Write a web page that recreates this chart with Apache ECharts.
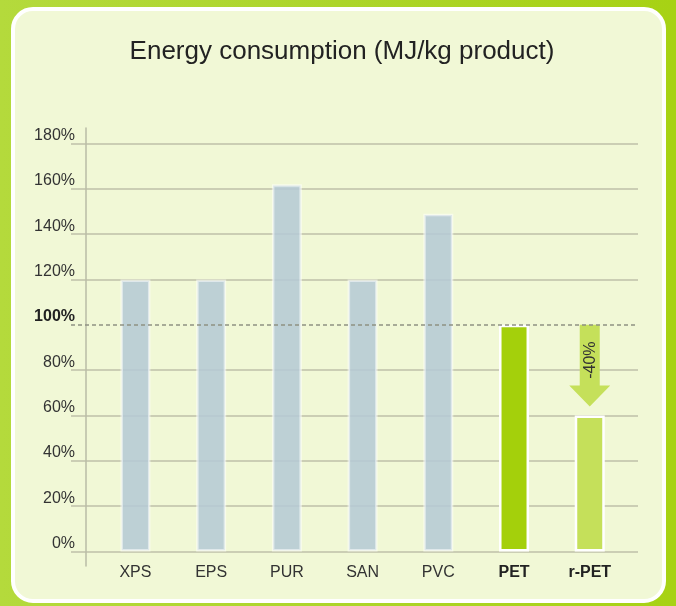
<!DOCTYPE html>
<html>
<head>
<meta charset="utf-8">
<script src="https://cdn.jsdelivr.net/npm/echarts@6/dist/echarts.min.js"></script>
<style>
  html, body { margin: 0; padding: 0; }
  body { width: 676px; height: 606px; background: linear-gradient(90deg, #b4da3c 0%, #acd52a 50%, #a7d214 100%); position: relative; overflow: hidden; }
  #card { position: absolute; left: 11px; top: 7px; width: 647px; height: 588px; background: #f1f8d6; border: 4px solid #ffffff; border-radius: 22px; }
  #chart { position: absolute; left: 0; top: 0; width: 676px; height: 606px; }
</style>
</head>
<body>
<div id="card"></div>
<div id="chart"></div>
<script>
// ---- data ----
const chartTitle = 'Energy consumption (MJ/kg product)';
const categories = ['XPS', 'EPS', 'PUR', 'SAN', 'PVC', 'PET', 'r-PET'];
const energyValues = [120, 120, 162, 120, 149, 100, 60];
const yMin = 0;
const yMax = 180;
const yStep = 20;
const referenceLevel = 100;
const boldCategories = ['PET', 'r-PET'];
const reductionFrom = 'PET';
const reductionTo = 'r-PET';

// ---- styles ----
const FONT = '"Liberation Sans", Arial, Helvetica, sans-serif';
const styleFor = (name) => {
  if (name === 'PET') return { color: '#a4d00b', borderColor: '#ffffff', opacity: 1 };
  if (name === 'r-PET') return { color: '#c5e05a', borderColor: '#ffffff', opacity: 1 };
  return { color: '#b4c9d5', borderColor: 'rgba(255,255,255,0.6)', opacity: 0.86 };
};

const fromIdx = categories.indexOf(reductionFrom);
const toIdx = categories.indexOf(reductionTo);
const fromVal = energyValues[fromIdx];
const toVal = energyValues[toIdx];
const reductionLabel = Math.round((toVal - fromVal) / fromVal * 100) + '%';

const gridLineColors = [];
for (let v = yMin; v <= yMax; v += yStep) gridLineColors.push(v === referenceLevel ? 'rgba(0,0,0,0)' : '#bec1a9');

const chart = echarts.init(document.getElementById('chart'), null, { renderer: 'canvas' });
chart.setOption({
  backgroundColor: 'transparent',
  animation: false,
  title: {
    text: chartTitle,
    left: 337, top: 34, textAlign: 'center',
    textStyle: { fontFamily: FONT, fontSize: 26, fontWeight: 'normal', color: '#222' }
  },
  grid: [
    { left: 71, width: 567, top: 143.5, height: 408 },
    { left: 97.6, width: 530, top: 128, height: 438 }
  ],
  xAxis: [
    { gridIndex: 0, type: 'value', min: 0, max: 1, show: false },
    {
      gridIndex: 1, type: 'category', data: categories, boundaryGap: true,
      axisLine: { show: false }, axisTick: { show: false },
      axisLabel: {
        interval: 0, margin: -1, fontFamily: FONT, fontSize: 16, color: '#333',
        formatter: (v) => boldCategories.includes(v) ? '{b|' + v + '}' : v,
        rich: { b: { fontFamily: FONT, fontSize: 16, fontWeight: 'bold', color: '#222' } }
      }
    }
  ],
  yAxis: [
    {
      gridIndex: 0, type: 'value', min: yMin, max: yMax, interval: yStep,
      axisLine: { show: false }, axisTick: { show: false },
      splitLine: { show: true, lineStyle: { color: gridLineColors, width: 1.5 } },
      axisLabel: {
        margin: -4, fontFamily: FONT, fontSize: 16, color: '#333',
        verticalAlign: 'bottom', lineHeight: 16, padding: [0, 0, 0, 0],
        formatter: (v) => v === referenceLevel ? '{b|' + v + '%}' : v + '%',
        rich: { b: { fontFamily: FONT, fontSize: 16, fontWeight: 'bold', color: '#222', lineHeight: 16 } }
      }
    },
    {
      gridIndex: 1, type: 'value', min: -6.4, max: 186.8, offset: 11.9,
      axisLine: { show: true, lineStyle: { color: '#b9bca6', width: 1.5 } },
      axisTick: { show: false }, axisLabel: { show: false }, splitLine: { show: false }
    }
  ],
  series: [
    {
      type: 'line', xAxisIndex: 0, yAxisIndex: 0, data: [], silent: true,
      markLine: {
        symbol: 'none', silent: true, label: { show: false },
        lineStyle: { type: [4, 3], color: '#8e9182', width: 1.5 },
        data: [{ yAxis: referenceLevel }]
      }
    },
    {
      type: 'bar', xAxisIndex: 1, yAxisIndex: 1, barWidth: 30,
      data: energyValues.map((v, i) => {
        const s = styleFor(categories[i]);
        return { value: v, itemStyle: { color: s.color, borderColor: s.borderColor, borderWidth: 2.5, opacity: s.opacity } };
      })
    },
    {
      type: 'custom', xAxisIndex: 1, yAxisIndex: 1, silent: true,
      data: [[toIdx, fromVal, toVal]],
      renderItem: (params, api) => {
        const pTop = api.coord([api.value(0), api.value(1)]);
        const pBar = api.coord([api.value(0), api.value(2)]);
        const x = pTop[0];
        const yTop = pTop[1];
        const tip = pBar[1] - 9;
        const headTop = tip - 21;
        const sw = 10, hw = 20.5;
        return {
          type: 'group',
          children: [
            {
              type: 'polygon',
              shape: { points: [[x - sw, yTop], [x + sw, yTop], [x + sw, headTop], [x + hw, headTop], [x, tip], [x - hw, headTop], [x - sw, headTop]] },
              style: { fill: '#c5e05a' }
            },
            {
              type: 'text', x: x + 1, y: (yTop + headTop) / 2 + 5, rotation: Math.PI / 2,
              style: { text: reductionLabel, fill: '#333', font: '16px ' + FONT, align: 'center', verticalAlign: 'middle' }
            }
          ]
        };
      }
    }
  ]
});
</script>
</body>
</html>
